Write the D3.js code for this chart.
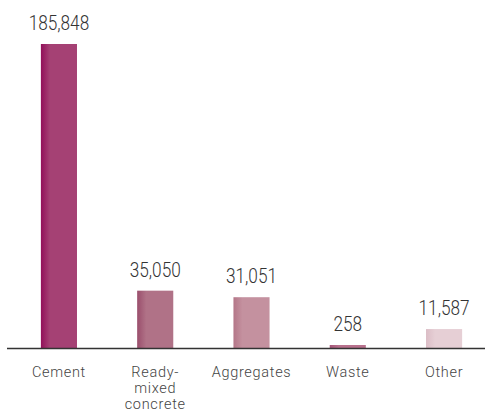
<!DOCTYPE html>
<html>
<head>
<meta charset="utf-8">
<script src="https://cdn.jsdelivr.net/npm/d3@7"></script>
<style>
  body { margin: 0; background: #fff; }
  svg text { font-family: "Roboto", "DejaVu Sans Condensed", sans-serif; }
</style>
</head>
<body>
<svg id="chart"></svg>
<script>
const categories = [["Cement"], ["Ready-", "mixed", "concrete"], ["Aggregates"], ["Waste"], ["Other"]];
const values = [185848, 35050, 31051, 258, 11587];
const colors = ["#a54174", "#b07287", "#c4919f", "#b8718d", "#e6cfd5"];
const edgeColors = ["#92105a", "#9a4e6c", "#b47688", "#a55478", "#dbbdc6"];

const width = 485, height = 412;
const baseY = 348, topY = 44;

const svg = d3.select("#chart").attr("width", width).attr("height", height);

const x = d3.scaleBand()
  .domain(d3.range(values.length))
  .range([12, 491])
  .paddingInner(0.625)
  .paddingOuter(0.3);

const y = d3.scaleLinear()
  .domain([0, d3.max(values)])
  .range([baseY, topY]);

const defs = svg.append("defs");
values.forEach((v, i) => {
  const g = defs.append("linearGradient").attr("id", "grad" + i)
    .attr("x1", "0%").attr("x2", "100%").attr("y1", "0%").attr("y2", "0%");
  g.append("stop").attr("offset", "0%").attr("stop-color", edgeColors[i]);
  g.append("stop").attr("offset", "25%").attr("stop-color", colors[i]);
  g.append("stop").attr("offset", "100%").attr("stop-color", colors[i]);
});

// bars (tiny values get a minimum visible height)
svg.selectAll("rect.bar")
  .data(values)
  .enter().append("rect")
  .attr("class", "bar")
  .attr("x", (d, i) => x(i))
  .attr("width", x.bandwidth())
  .attr("y", d => Math.min(y(d), baseY - 3))
  .attr("height", d => Math.max(baseY - y(d), 3))
  .attr("fill", (d, i) => `url(#grad${i})`);

// baseline
svg.append("line")
  .attr("x1", 7).attr("x2", width)
  .attr("y1", baseY + 0.5).attr("y2", baseY + 0.5)
  .attr("stroke", "#333").attr("stroke-width", 1.5);

// value labels
svg.selectAll("text.value")
  .data(values)
  .enter().append("text")
  .attr("class", "value")
  .attr("x", (d, i) => x(i) + x.bandwidth() / 2)
  .attr("y", d => Math.min(y(d), baseY - 3) - 14)
  .attr("text-anchor", "middle")
  .attr("font-size", 20.5)
  .attr("font-weight", 300)
  .attr("fill", "#333")
  .attr("transform", (d, i) => {
    const cx = x(i) + x.bandwidth() / 2;
    return `translate(${cx},0) scale(0.84,1) translate(${-cx},0)`;
  })
  .text(d => d3.format(",")(d));

// category labels, one text per line
categories.forEach((lines, i) => {
  lines.forEach((line, j) => {
    svg.append("text")
      .attr("class", "cat")
      .attr("x", x(i) + x.bandwidth() / 2)
      .attr("y", 377 + j * 16)
      .attr("text-anchor", "middle")
      .attr("font-size", 14.5)
      .attr("font-weight", 300)
      .attr("letter-spacing", 0.7)
      .attr("fill", "#444")
      .text(line);
  });
});
</script>
</body>
</html>
